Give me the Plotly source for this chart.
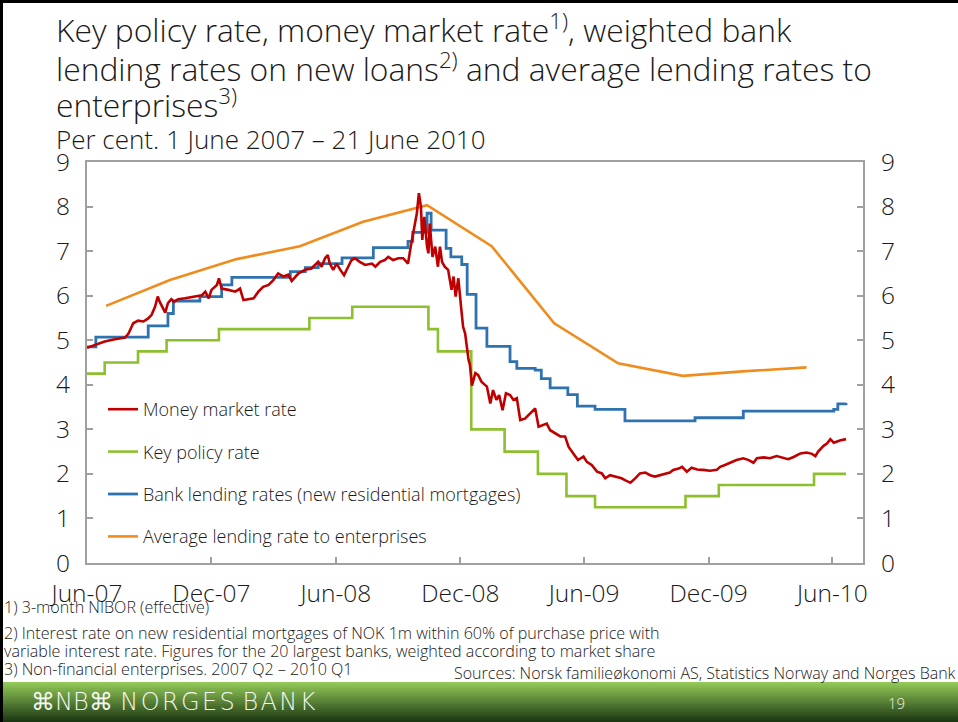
import pandas as pd
import plotly.graph_objects as go

W, H = 958, 722
L, R, T, B = 87, 95, 162, 159          # plot area: x 87..863, y 162..563
FONT = "Open Sans"

START = pd.Timestamp("2007-06-01")

# Money market rate (3-month NIBOR), days since 1 June 2007 / per cent
mm_day = [
    0, 12, 26, 41, 56, 61, 68, 75, 83, 90, 95, 100, 104, 107, 111, 115, 119,
    124, 128, 134, 144, 159, 169, 174, 179, 183, 191, 194, 198, 208, 218, 225,
    230, 237, 245, 252, 259, 267, 274, 281, 289, 296, 301, 311, 321, 330, 340,
    345, 350, 354, 357, 362, 367, 372, 378, 384, 389, 394, 401, 409, 419, 424,
    431, 438, 443, 450, 458, 465, 472, 476, 480, 485, 488, 491, 493, 496, 500,
    502, 504, 508, 512, 516, 519, 522, 526, 531, 536, 539, 542, 546, 550, 553,
    556, 558, 561, 563, 566, 571, 575, 580, 588, 593, 597, 602, 606, 611, 616,
    622, 627, 632, 637, 644, 649, 654, 659, 664, 669, 676, 681, 688, 696, 703,
    708, 715, 722, 730, 735, 742, 750, 757, 762, 769, 776, 786, 791, 799, 806,
    813, 821, 828, 835, 843, 850, 857, 862, 870, 875, 882, 889, 897, 906, 916,
    926, 931, 938, 946, 955, 965, 973, 980, 985, 995, 1004, 1014, 1024, 1031,
    1039, 1049, 1058, 1066, 1071, 1075, 1083, 1088, 1093, 1098, 1107, 1116,
]
mm_rate = [
    4.83, 4.89, 4.97, 5.02, 5.06, 5.15, 5.38, 5.44, 5.42, 5.49, 5.57, 5.75,
    5.98, 5.86, 5.75, 5.62, 5.83, 5.92, 5.86, 5.92, 5.94, 5.98, 6.01, 6.09,
    5.94, 6.13, 6.24, 6.39, 6.16, 6.13, 6.09, 6.16, 5.90, 5.92, 5.94, 6.09,
    6.20, 6.24, 6.35, 6.50, 6.43, 6.47, 6.33, 6.50, 6.58, 6.61, 6.76, 6.65,
    6.84, 6.91, 6.72, 6.58, 6.72, 6.59, 6.46, 6.65, 6.80, 6.84, 6.76, 6.69,
    6.72, 6.65, 6.76, 6.80, 6.87, 6.80, 6.84, 6.84, 6.72, 7.10, 7.47, 7.85,
    8.30, 8.00, 7.25, 7.77, 7.10, 6.95, 7.62, 6.87, 7.10, 6.65, 7.10, 6.76,
    6.65, 6.58, 6.13, 6.43, 5.98, 6.39, 5.75, 5.30, 5.15, 4.86, 4.56, 4.45,
    3.98, 4.26, 4.22, 4.07, 3.96, 3.58, 3.88, 3.66, 3.77, 3.43, 3.81, 3.77,
    3.66, 3.70, 3.21, 3.24, 3.32, 3.40, 3.47, 3.06, 3.09, 3.13, 2.98, 2.91,
    2.84, 2.84, 2.61, 2.46, 2.31, 2.39, 2.27, 2.20, 2.05, 2.01, 1.90, 1.97,
    1.94, 1.90, 1.86, 1.80, 1.90, 2.01, 2.03, 1.97, 1.94, 1.97, 2.01, 2.03,
    2.09, 2.12, 2.16, 2.05, 2.14, 2.10, 2.09, 2.07, 2.09, 2.16, 2.20, 2.25,
    2.31, 2.35, 2.31, 2.25, 2.35, 2.37, 2.35, 2.40, 2.35, 2.33, 2.38, 2.46,
    2.48, 2.45, 2.40, 2.50, 2.63, 2.68, 2.78, 2.70, 2.75, 2.78,
]

# Bank lending rates, new residential mortgages (step changes)
bank_day = [
    0, 13, 90, 119, 127, 166, 198, 213, 299, 321, 340, 375, 421, 472, 479,
    500, 506, 528, 535, 551, 559, 572, 588, 622, 632, 659, 668, 681, 707, 721,
    747, 791, 894, 965, 1098, 1104, 1116,
]
bank_rate = [
    4.85, 5.07, 5.32, 5.60, 5.88, 5.98, 6.24, 6.41, 6.54, 6.63, 6.72, 6.85,
    7.08, 7.22, 7.42, 7.85, 7.47, 7.06, 6.87, 6.70, 6.03, 5.27, 4.86, 4.52,
    4.37, 4.33, 4.14, 3.93, 3.78, 3.52, 3.45, 3.19, 3.26, 3.41, 3.45, 3.57,
    3.59,
]

# Key policy rate
policy_date = [
    "2007-06-01", "2007-06-27", "2007-08-15", "2007-09-26", "2007-12-12",
    "2008-04-23", "2008-06-25", "2008-10-15", "2008-10-29", "2008-12-17",
    "2009-02-04", "2009-03-25", "2009-05-06", "2009-06-17", "2009-10-28",
    "2009-12-16", "2010-05-05", "2010-06-21",
]
policy_rate = [
    4.25, 4.50, 4.75, 5.00, 5.25, 5.50, 5.75, 5.25, 4.75, 3.00,
    2.50, 2.00, 1.50, 1.25, 1.50, 1.75, 2.00, 2.00,
]

# Average lending rate to enterprises (quarterly, 2007 Q2 - 2010 Q1)
ent_date = [
    "2007-06-29", "2007-10-01", "2008-01-07", "2008-04-09", "2008-07-11",
    "2008-10-13", "2009-01-16", "2009-04-18", "2009-07-21", "2009-10-24",
    "2010-01-20", "2010-04-24",
]
ent_rate = [5.77, 6.35, 6.82, 7.11, 7.66, 8.03, 7.11, 5.38, 4.48, 4.20, 4.30, 4.39]

x_ticks = ["2007-06-01", "2007-12-01", "2008-06-01", "2008-12-01",
           "2009-06-01", "2009-12-01", "2010-06-01"]
x_ticktext = ["Jun-07", "Dec-07", "Jun-08", "Dec-08", "Jun-09", "Dec-09", "Jun-10"]

RED, GREEN, BLUE, ORANGE = "#c00000", "#8dbf2e", "#2f72b0", "#f08c1e"

mm_x = START + pd.to_timedelta(mm_day, unit="D")
bank_x = START + pd.to_timedelta(bank_day, unit="D")


def px(x):
    return (x - L) / (W - L - R)


def py(y):
    return (H - B - y) / (H - T - B)


fig = go.Figure()
fig.add_trace(go.Scatter(x=ent_date, y=ent_rate, mode="lines", name="Average lending rate to enterprises",
                         line=dict(color=ORANGE, width=2.6), legendgroup="d", legendrank=4))
fig.add_trace(go.Scatter(x=bank_x, y=bank_rate, mode="lines", line_shape="hv",
                         name="Bank lending rates (new residential mortgages)",
                         line=dict(color=BLUE, width=2.8), legendgroup="c", legendrank=3))
fig.add_trace(go.Scatter(x=policy_date, y=policy_rate, mode="lines", line_shape="hv",
                         name="Key policy rate", line=dict(color=GREEN, width=2.6),
                         legendgroup="b", legendrank=2))
fig.add_trace(go.Scatter(x=mm_x, y=mm_rate, mode="lines", name="Money market rate",
                         line=dict(color=RED, width=2.6), legendgroup="a", legendrank=1))
# invisible trace to carry the right-hand axis
fig.add_trace(go.Scatter(x=[x_ticks[0]], y=[0], yaxis="y2", mode="lines",
                         showlegend=False, hoverinfo="skip", line=dict(width=0)))

axis_common = dict(
    showline=True, linecolor="#a0a0a0", linewidth=2, ticks="inside", ticklen=6,
    tickcolor="#a0a0a0", tickwidth=1.5, showgrid=False, zeroline=False,
    tickfont=dict(family=FONT, size=24.5, color="#1a1a1a", weight=300),
)
fig.update_layout(
    width=W, height=H,
    margin=dict(l=L, r=R, t=T, b=B),
    paper_bgcolor="white", plot_bgcolor="white",
    font=dict(family=FONT, color="#1a1a1a", weight=300),
    xaxis=dict(type="date", range=["2007-06-01", "2010-07-16"], tickvals=x_ticks,
               ticktext=x_ticktext, mirror=True, ticklabelstandoff=8, **axis_common),
    yaxis=dict(range=[0, 9], dtick=1, ticklabelstandoff=10, **axis_common),
    yaxis2=dict(range=[0, 9], dtick=1, overlaying="y", side="right",
                ticklabelstandoff=11, **axis_common),
    legend=dict(x=px(103), y=py(391), xanchor="left", yanchor="top",
                bgcolor="rgba(0,0,0,0)", tracegroupgap=16,
                font=dict(family=FONT, size=18, color="#1a1a1a", weight=300)),
    showlegend=True,
)

ann = []
title_lines = [
    ("Key policy rate, money market rate<sup>1)</sup>, weighted bank", 28),
    ("lending rates on new loans<sup>2)</sup> and average lending rates to", 67),
    ("enterprises<sup>3)</sup>", 103),
]
for txt, yc in title_lines:
    ann.append(dict(text=txt, x=px(54), y=py(yc), xanchor="left", yanchor="middle",
                    font=dict(size=31.8, weight=300)))
ann.append(dict(text="Per cent. 1 June 2007 \u2013 21 June 2010", x=px(54), y=py(139),
                xanchor="left", yanchor="middle", font=dict(size=26, weight=300)))

notes = [
    ("1) 3-month NIBOR (effective)", 607),
    ("2) Interest rate on new residential mortgages of NOK 1m within 60% of purchase price with", 633),
    ("variable interest rate. Figures for the 20 largest banks, weighted according to market share", 651),
    ("3) Non-financial enterprises. 2007 Q2 \u2013 2010 Q1", 669),
]
for txt, yc in notes:
    ann.append(dict(text=txt, x=px(2), y=py(yc), xanchor="left", yanchor="middle",
                    font=dict(size=16.1, weight=300)))
ann.append(dict(text="Sources: Norsk familie\u00f8konomi AS, Statistics Norway and Norges Bank",
                x=px(958), y=py(673), xanchor="right", yanchor="middle",
                font=dict(size=16, weight=300)))
ann.append(dict(text="\u2318NB\u2318 N\u200aO\u200aR\u200aG\u200aE\u200aS B\u200aA\u200aN\u200aK",
                x=px(29), y=py(702), xanchor="left", yanchor="middle",
                font=dict(family="DejaVu Sans", size=24, color="#f2f6ee")))
ann.append(dict(text="19", x=px(896), y=py(703), xanchor="center", yanchor="middle",
                font=dict(size=15, color="#e8f0e0")))
for a in ann:
    a.update(xref="paper", yref="paper", showarrow=False)
fig.update_layout(annotations=ann)

# footer gradient bar and slide frame
shapes = []
top_c, bot_c = (146, 200, 86), (28, 56, 18)
n = 20
for i in range(n):
    f = i / (n - 1)
    c = tuple(round(top_c[k] + (bot_c[k] - top_c[k]) * f) for k in range(3))
    y0 = 682 + i * 2
    shapes.append(dict(type="rect", xref="paper", yref="paper", x0=px(0), x1=px(W),
                       y0=py(y0 + 2.2), y1=py(y0), line=dict(width=0),
                       fillcolor="rgb(%d,%d,%d)" % c, layer="below"))
shapes.append(dict(type="rect", xref="paper", yref="paper", x0=px(0), x1=px(W),
                   y0=py(3), y1=py(0), line=dict(width=0), fillcolor="black"))
shapes.append(dict(type="rect", xref="paper", yref="paper", x0=px(0), x1=px(3),
                   y0=py(H), y1=py(0), line=dict(width=0), fillcolor="black"))
fig.update_layout(shapes=shapes)

fig.write_html(
    "out.html",
    config={"displayModeBar": False},
    post_script="document.body.style.margin='0';document.body.style.overflow='hidden';",
)
